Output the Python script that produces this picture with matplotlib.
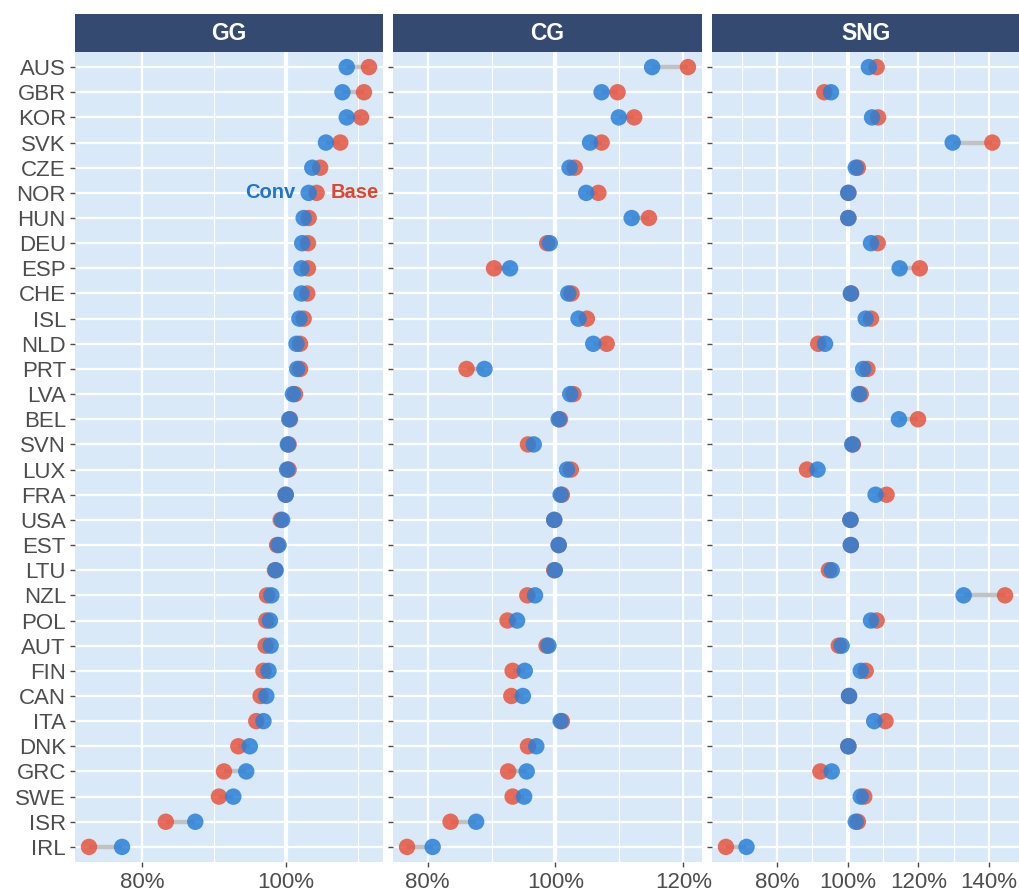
import numpy as np
import matplotlib
matplotlib.use('Agg')
from matplotlib import pyplot as plt

plt.rcParams['font.family'] = ['Liberation Sans', 'DejaVu Sans']

countries = ['AUS', 'GBR', 'KOR', 'SVK', 'CZE', 'NOR', 'HUN', 'DEU', 'ESP', 'CHE', 'ISL',
             'NLD', 'PRT', 'LVA', 'BEL', 'SVN', 'LUX', 'FRA', 'USA', 'EST', 'LTU', 'NZL',
             'POL', 'AUT', 'FIN', 'CAN', 'ITA', 'DNK', 'GRC', 'SWE', 'ISR', 'IRL']

gg_conv = [108.5, 107.9, 108.5, 105.6, 103.7, 103.2, 102.5, 102.3, 102.2, 102.2, 101.9,
           101.5, 101.6, 101.0, 100.5, 100.3, 100.2, 100.0, 99.5, 99.0, 98.6, 98.0,
           97.8, 97.9, 97.6, 97.3, 96.9, 95.0, 94.5, 92.7, 87.4, 77.2]
gg_base = [111.6, 110.9, 110.5, 107.6, 104.8, 104.3, 103.2, 103.1, 103.1, 103.0, 102.5,
           102.0, 102.0, 101.3, 100.6, 100.4, 100.4, 100.0, 99.3, 98.8, 98.5, 97.4,
           97.3, 97.2, 96.9, 96.5, 95.9, 93.4, 91.4, 90.7, 83.3, 72.6]

cg_conv = [115.1, 107.2, 109.9, 105.4, 102.2, 104.8, 111.9, 99.1, 92.9, 102.0, 103.6,
           105.9, 88.9, 102.3, 100.5, 96.6, 101.8, 100.8, 99.8, 100.5, 99.9, 96.8,
           94.0, 98.9, 95.2, 94.9, 100.8, 97.0, 95.5, 95.1, 87.6, 80.8]
cg_base = [120.7, 109.7, 112.3, 107.2, 103.0, 106.7, 114.6, 98.7, 90.4, 102.5, 104.9,
           108.0, 86.1, 102.8, 100.7, 95.7, 102.4, 101.0, 99.8, 100.5, 99.8, 95.6,
           92.5, 98.6, 93.3, 93.1, 101.0, 95.7, 92.6, 93.3, 83.6, 76.8]

sng_conv = [106.0, 95.3, 106.9, 129.7, 102.3, 100.2, 100.2, 106.6, 114.7, 100.9, 105.1,
            93.6, 104.4, 103.2, 114.5, 101.3, 91.5, 107.9, 100.8, 100.9, 95.5, 132.8,
            106.6, 98.3, 103.7, 100.4, 107.5, 100.2, 95.5, 103.7, 102.3, 71.4]
sng_base = [108.2, 93.4, 108.6, 140.9, 102.9, 100.2, 100.2, 108.5, 120.4, 101.0, 106.6,
            91.7, 105.6, 103.7, 119.9, 101.5, 88.5, 111.0, 100.8, 100.9, 94.7, 144.5,
            108.2, 97.5, 105.1, 100.4, 110.7, 100.2, 92.3, 104.7, 102.9, 65.6]

panel_names = ['GG', 'CG', 'SNG']
panel_ticks = [[80, 100], [80, 100, 120], [80, 100, 120, 140]]

conv_color = '#2a80d8'
base_color = '#e6553e'
bg_color = '#dae9f8'
strip_color = '#344a70'

W, H = 1019, 892
fig = plt.figure(figsize=(W / 100, H / 100), dpi=100)

lefts = [75, 393, 712]
rights = [383, 702, 1019]
top_px, bot_px, strip_top = 52, 862, 14

n = len(countries)
ypos = np.arange(n)[::-1]

data = [(gg_conv, gg_base), (cg_conv, cg_base), (sng_conv, sng_base)]

for k in range(3):
    conv = np.array(data[k][0])
    base = np.array(data[k][1])
    l, r = lefts[k], rights[k]
    ax = fig.add_axes([l / W, 1 - bot_px / H, (r - l) / W, (bot_px - top_px) / H])
    ax.set_facecolor(bg_color)

    ticks = panel_ticks[k]
    ax.set_xticks(ticks)
    ax.set_xticklabels(['%d%%' % t for t in ticks])
    minor = [t - 10 for t in ticks] + [ticks[-1] + 10]
    ax.set_xticks(minor, minor=True)
    ax.set_yticks(ypos)
    if k == 0:
        ax.set_yticklabels(countries)
    else:
        ax.set_yticklabels([])
        ax.tick_params(axis='y', length=0)

    # free x scale with 5% expansion, set after ticks so they don't widen it
    lo = min(conv.min(), base.min())
    hi = max(conv.max(), base.max())
    pad = (hi - lo) * 0.05
    ax.set_xlim(lo - pad, hi + pad)
    ax.set_ylim(-0.6, n - 1 + 0.6)

    ax.grid(True, which='major', color='white', linewidth=1.6)
    ax.grid(True, which='minor', axis='x', color='white', linewidth=0.8)
    ax.set_axisbelow(True)
    ax.axvline(100, color='white', linewidth=3, zorder=1)

    for s in ax.spines.values():
        s.set_visible(False)
    ax.tick_params(axis='both', which='major', labelsize=16, labelcolor='#4d4d4d',
                   color='#4d4d4d', length=3.5, width=1)
    ax.tick_params(axis='both', which='minor', length=0)
    ax.tick_params(axis='x', pad=4)
    ax.tick_params(axis='y', pad=3)

    ax.hlines(ypos, conv, base, color='#c2c2c2', linewidth=3.2, zorder=2)
    ax.scatter(base, ypos, s=140, color=base_color, alpha=0.85, edgecolors='none', zorder=3)
    ax.scatter(conv, ypos, s=140, color=conv_color, alpha=0.85, edgecolors='none', zorder=4)

    if k == 0:
        i = countries.index('NOR')
        ax.annotate('Conv', (conv[i], ypos[i]), xytext=(-9.5, 0), textcoords='offset points',
                    ha='right', va='center', color='#1f74d0', fontsize=14.5, fontweight='bold')
        ax.annotate('Base', (base[i], ypos[i]), xytext=(10, 0), textcoords='offset points',
                    ha='left', va='center', color='#e2452f', fontsize=14.5, fontweight='bold')

    sax = fig.add_axes([l / W, 1 - top_px / H, (r - l) / W, (top_px - strip_top) / H])
    sax.set_facecolor(strip_color)
    sax.set_xticks([])
    sax.set_yticks([])
    for s in sax.spines.values():
        s.set_visible(False)
    sax.text(0.5, 0.5, panel_names[k], ha='center', va='center', color='white',
             fontsize=16.5, fontweight='bold', transform=sax.transAxes)

fig.savefig('out.png', dpi=100, facecolor='white')
